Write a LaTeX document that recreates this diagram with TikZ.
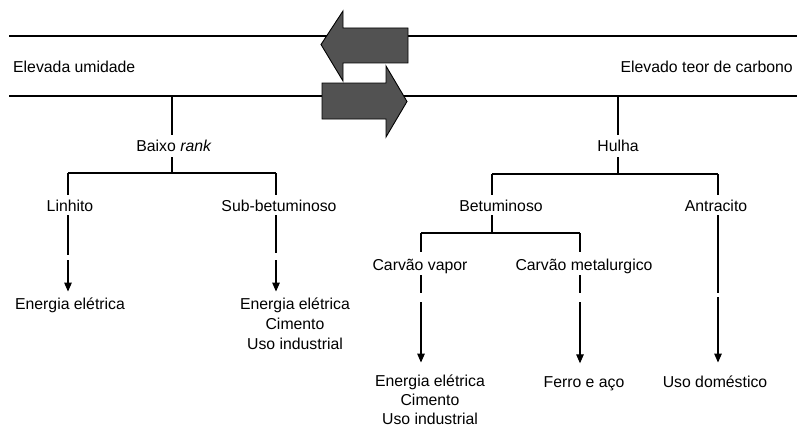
\documentclass[tikz,border=0pt]{standalone}
\usepackage{fontspec}
\setmainfont{Liberation Sans}
\usetikzlibrary{arrows.meta}
\begin{document}
\begin{tikzpicture}[x=1pt,y=-1pt,
  lbl/.style={inner sep=0pt, font=\fontsize{15.8}{20}\selectfont, text height=11.4pt, text depth=0pt},
  mlbl/.style={inner sep=0pt, font=\fontsize{15.8}{20}\selectfont, align=center, text depth=0pt},
  trunk/.style={line width=2.8pt},
  rule/.style={line width=2.6pt},
  arr/.style={line width=1.3pt, -{Triangle[length=9pt,width=7.5pt]}},
  bigarrow/.style={fill=black!68, draw=black, line width=0.9pt, line join=miter}]
\useasboundingbox (0,0) rectangle (797,428);

% horizontal rules
\coordinate (tl) at (9,36);  \coordinate (tr) at (797,36);
\coordinate (bl) at (9,96);  \coordinate (br) at (797,96);
\draw[rule] (tl) -- (tr);
\draw[rule] (bl) -- (br);

% side labels
\node[lbl, anchor=base west] (umid) at (13,72.5) {Elevada umidade};
\node[lbl, anchor=base east] (carb) at (793,72.5) {Elevado teor de carbono};

% ---------- left tree ----------
\coordinate (bj) at (172,96);
\node[lbl, anchor=base] (baixo) at (174,151.5) {Baixo \textit{rank}};
\coordinate (lj) at (172,173);
\coordinate (ljl) at (68,173);
\coordinate (ljr) at (276,173);
\node[lbl, anchor=base] (linhito) at (70,211) {Linhito};
\node[lbl, anchor=base] (subbet) at (279,211) {Sub-betuminoso};
\coordinate (lm1) at (68,257);
\coordinate (lm2) at (276,257);
\node[mlbl, anchor=base] (ee1) at (70,309) {Energia elétrica};
\node[mlbl, anchor=base] (ee2) at (295,349) {Energia elétrica\\Cimento\\Uso industrial};

\draw[trunk, shorten >=5pt] (bj) -- (bj |- baixo.north);
\draw[trunk, shorten <=5.5pt] (baixo.south -| lj) -- (lj);
\draw[trunk] (ljl) -- (ljr);
\draw[trunk, shorten >=4.6pt] (ljl) -- (ljl |- linhito.north);
\draw[trunk, shorten >=4.6pt] (ljr) -- (ljr |- subbet.north);
\draw[trunk, shorten <=4pt, shorten >=2pt] (ljl |- linhito.south) -- (lm1);
\draw[trunk, shorten <=4pt, shorten >=4pt] (ljr |- subbet.south) -- (lm2);
\draw[arr, shorten <=3pt, shorten >=5.6pt] (lm1) -- (lm1 |- ee1.north);
\draw[arr, shorten <=3pt, shorten >=5.6pt] (lm2) -- (lm2 |- ee2.north);

% ---------- right tree ----------
\coordinate (hj) at (618,96);
\node[lbl, anchor=base] (hulha) at (618,151.5) {Hulha};
\coordinate (rj) at (618,174);
\coordinate (rjl) at (492,174);
\coordinate (rjr) at (718,174);
\node[lbl, anchor=base] (betum) at (501,211) {Betuminoso};
\node[lbl, anchor=base] (antra) at (716,211) {Antracito};
\coordinate (bjn) at (492,233);
\coordinate (bjl) at (421,233);
\coordinate (bjr) at (580,233);
\node[lbl, anchor=base] (vapor) at (420,270) {Carvão vapor};
\node[lbl, anchor=base] (metal) at (584,270) {Carvão metalurgico};
\coordinate (vm) at (421,297.5);
\coordinate (mm) at (580,297.5);
\coordinate (am) at (718,295);
\node[mlbl, anchor=base, font=\fontsize{15.8}{19}\selectfont] (ee3) at (430,424.8) {Energia elétrica\\Cimento\\Uso industrial};
\node[mlbl, anchor=base] (ferro) at (584,387) {Ferro e aço};
\node[mlbl, anchor=base] (domes) at (715,387) {Uso doméstico};

\draw[trunk, shorten >=5pt] (hj) -- (hj |- hulha.north);
\draw[trunk, shorten <=5.5pt] (hulha.south -| rj) -- (rj);
\draw[trunk] (rjl) -- (rjr);
\draw[trunk, shorten >=4.6pt] (rjl) -- (rjl |- betum.north);
\draw[trunk, shorten >=4.6pt] (rjr) -- (rjr |- antra.north);
\draw[trunk, shorten <=4pt] (rjl |- betum.south) -- (bjn);
\draw[trunk] (bjl) -- (bjr);
\draw[trunk, shorten >=6.6pt] (bjl) -- (bjl |- vapor.north);
\draw[trunk, shorten >=6.6pt] (bjr) -- (bjr |- metal.north);
\draw[trunk, shorten <=5pt, shorten >=4.5pt] (bjl |- vapor.south) -- (vm);
\draw[trunk, shorten <=5pt, shorten >=4.5pt] (bjr |- metal.south) -- (mm);
\draw[trunk, shorten <=4pt, shorten >=2pt] (rjr |- antra.south) -- (am);
\draw[arr, shorten <=4.5pt, shorten >=12.4pt] (vm) -- (vm |- ee3.north);
\draw[arr, shorten <=4.5pt, shorten >=12.6pt] (mm) -- (mm |- ferro.north);
\draw[arr, shorten <=2pt, shorten >=12.6pt] (am) -- (am |- domes.north);

% ---------- big arrows ----------
\draw[bigarrow] (408,28) -- (343,28) -- (343,11) -- (321,44.5) -- (343,81) -- (343,63) -- (408,63) -- cycle;
\draw[bigarrow] (322,83) -- (386,83) -- (386,66) -- (407,101.5) -- (386,137) -- (386,119) -- (322,119) -- cycle;
\end{tikzpicture}
\end{document}
